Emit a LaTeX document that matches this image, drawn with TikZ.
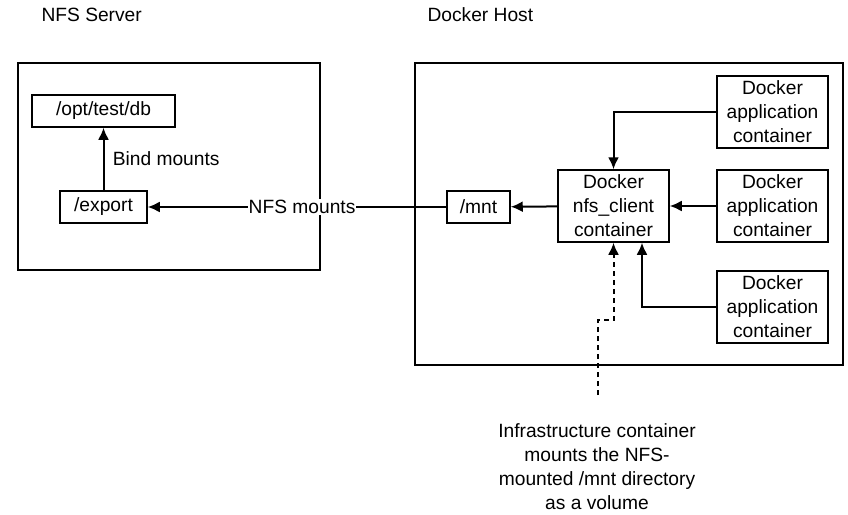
\documentclass[tikz,border=0pt]{standalone}
\usepackage{fontspec}
\setmainfont{Liberation Sans}
\usetikzlibrary{arrows.meta}
\begin{document}
\begin{tikzpicture}[x=1pt,y=-1pt,
  txt/.style={font=\fontsize{19.2}{24}\selectfont},
  box/.style={draw,line width=1.5pt,inner sep=0pt,align=center,txt},
  frame/.style={draw,line width=1.5pt,inner sep=0pt},
  conn/.style={draw,line width=2pt,-{Latex[length=12pt,width=11pt]}},
  dconn/.style={conn,dash pattern=on 5pt off 4pt}]
\useasboundingbox (0,0) rectangle (848,514);
% titles
\node[txt,anchor=west] (t1) at (38,15) {NFS Server};
\node[txt,anchor=west] (t2) at (424,15) {Docker Host};
% frames
\node[frame,minimum width=302pt,minimum height=207pt] (nfsbox) at (169,166.5) {};
\node[frame,minimum width=428pt,minimum height=302pt] (dhbox) at (629,214) {};
% NFS server nodes
\node[box,minimum width=143pt,minimum height=32pt] (db) at (103.5,111) {/opt/test/db};
\node[box,minimum width=87pt,minimum height=32pt] (export) at (103.5,207) {/export};
% docker host nodes
\node[box,minimum width=63pt,minimum height=32pt] (mnt) at (478.5,207) {/mnt};
\node[box,minimum width=111pt,minimum height=72pt] (nfsc) at (613.5,206) {Docker\\nfs\_client\\container};
\node[box,minimum width=111pt,minimum height=72pt] (app1) at (772.5,112) {Docker\\application\\container};
\node[box,minimum width=111pt,minimum height=72pt] (app2) at (772.5,206) {Docker\\application\\container};
\node[box,minimum width=111pt,minimum height=72pt] (app3) at (772.5,307) {Docker\\application\\container};
% note
\node[txt,align=center,anchor=north] (note) at (597,420) {Infrastructure container\\mounts the NFS-\\mounted /mnt directory\\as a volume};
% connectors
\draw[conn] (export) -- node[txt,right,xshift=5pt] {Bind mounts} (db);
\draw[conn] (mnt) -- node[txt,fill=white,inner sep=1pt,pos=0.483] {NFS mounts} (export);
\draw[conn] (nfsc) -- (mnt);
\draw[conn] (app2) -- (nfsc);
\draw[conn] (app1.west) -| (nfsc.north);
\draw[conn] (app3.west) -| ([xshift=28.5pt]nfsc.south);
\coordinate (d0) at (598,395);
\coordinate (d1) at (598,320);
\coordinate (d2) at (613.5,320);
\draw[dconn] (d0) -- (d1) -- (d2) -- (nfsc.south);
\end{tikzpicture}
\end{document}
